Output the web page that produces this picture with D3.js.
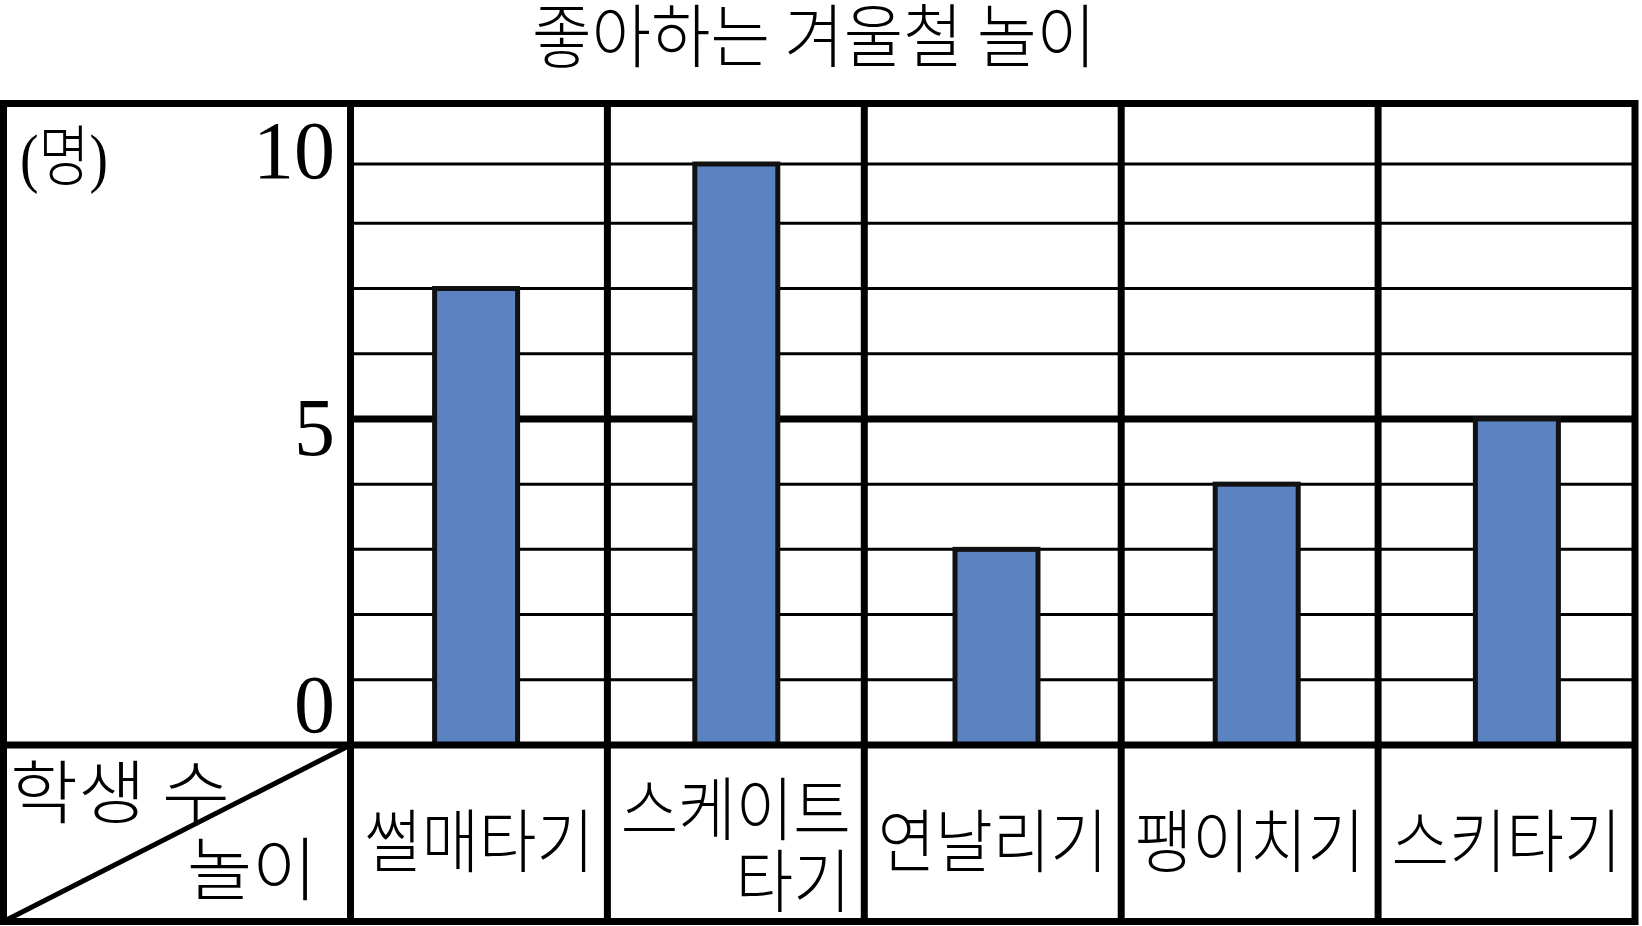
<!DOCTYPE html>
<html>
<head>
<meta charset="utf-8">
<script src="https://cdn.jsdelivr.net/npm/d3@7"></script>
<style>
  html, body { margin: 0; padding: 0; background: #fff; }
  svg { display: block; }
</style>
</head>
<body>
<svg id="chart" width="1642" height="926"></svg>
<script>
// ---- data ----
const title = "좋아하는 겨울철 놀이";
const unitLabel = "(명)";
const cornerTop = "학생 수";
const cornerBottom = "놀이";
const categories = ["썰매타기", "스케이트\n타기", "연날리기", "팽이치기", "스키타기"];
const values = [7, 10, 3, 4, 5];
const yTickLabels = [0, 5, 10];
const gridTicks = [1, 2, 3, 4, 5, 6, 7, 8, 10];
const majorTick = 5;

// ---- layout ----
const W = 1642, H = 926;
const frame = { left: 3.5, right: 1635, top: 103.5, bottom: 921.5 };
const axisColX = 350.5;
const baseY = 745;
const korFont = "'Noto Sans CJK KR', sans-serif";
const numFont = "'Liberation Serif', 'Noto Sans CJK KR', serif";
const korSize = 69;
const charW = 57.5;

const svg = d3.select("#chart");
svg.append("rect").attr("width", W).attr("height", H).attr("fill", "#fff");

// table columns
const x = d3.scaleBand().domain(categories).range([axisColX, frame.right]);
// bars sit on a slightly wider, evenly spaced pitch
const xBar = d3.scaleBand().domain(categories).range([346, 1647]);
// the printed grid is even from 0 to 8, with the 10 line placed just above
const y = d3.scaleLinear().domain([0, 8, 10]).range([baseY, 223.3, 164]);
const labelY = d3.scaleLinear().domain([0, 10]).range([732, 178]);

// grid lines
svg.append("g").selectAll("line").data(gridTicks).join("line")
  .attr("x1", axisColX).attr("x2", frame.right)
  .attr("y1", d => y(d)).attr("y2", d => y(d))
  .attr("stroke", "#000")
  .attr("stroke-width", d => d === majorTick ? 7 : 3);

// bars
const barW = 83;
svg.append("g").selectAll("rect").data(values).join("rect")
  .attr("x", (d, i) => xBar(categories[i]) + xBar.bandwidth() / 2 - barW / 2)
  .attr("width", barW)
  .attr("y", d => y(d))
  .attr("height", d => y(0) - y(d))
  .attr("fill", "#5b83c1")
  .attr("stroke", "#111")
  .attr("stroke-width", 5);

// baseline across full width
svg.append("line")
  .attr("x1", frame.left).attr("x2", frame.right)
  .attr("y1", y(0)).attr("y2", y(0))
  .attr("stroke", "#000").attr("stroke-width", 7);

// column separators
svg.append("g").selectAll("line").data(categories).join("line")
  .attr("x1", d => x(d)).attr("x2", d => x(d))
  .attr("y1", frame.top).attr("y2", frame.bottom)
  .attr("stroke", "#000").attr("stroke-width", 7);

// outer frame
svg.append("rect")
  .attr("x", frame.left).attr("y", frame.top)
  .attr("width", frame.right - frame.left).attr("height", frame.bottom - frame.top)
  .attr("fill", "none").attr("stroke", "#000").attr("stroke-width", 7);

// diagonal in corner cell
svg.append("line")
  .attr("x1", frame.left).attr("y1", frame.bottom)
  .attr("x2", axisColX).attr("y2", y(0))
  .attr("stroke", "#000").attr("stroke-width", 5);

// y tick labels
svg.append("g").selectAll("text").data(yTickLabels).join("text")
  .attr("x", 335).attr("y", d => labelY(d))
  .attr("text-anchor", "end")
  .attr("font-family", numFont).attr("font-size", 82)
  .attr("fill", "#000")
  .text(d => d);

// unit label
svg.append("text")
  .attr("x", 20).attr("y", 180)
  .attr("font-family", numFont).attr("font-size", 66).attr("font-weight", 300)
  .attr("textLength", 88).attr("lengthAdjust", "spacingAndGlyphs")
  .text(unitLabel);

// title
svg.append("text")
  .attr("x", 814).attr("y", 62)
  .attr("text-anchor", "middle")
  .attr("font-family", korFont).attr("font-size", korSize).attr("font-weight", 300)
  .attr("textLength", 564).attr("lengthAdjust", "spacingAndGlyphs")
  .text(title);

// corner labels
svg.append("text")
  .attr("x", 10).attr("y", 818)
  .attr("font-family", korFont).attr("font-size", korSize).attr("font-weight", 300)
  .attr("textLength", 220).attr("lengthAdjust", "spacingAndGlyphs")
  .text(cornerTop);
svg.append("text")
  .attr("x", 187).attr("y", 895)
  .attr("font-family", korFont).attr("font-size", korSize).attr("font-weight", 300)
  .attr("textLength", 130).attr("lengthAdjust", "spacingAndGlyphs")
  .text(cornerBottom);

// category labels
const catG = svg.append("g")
  .attr("font-family", korFont).attr("font-size", korSize).attr("font-weight", 300);
categories.forEach(c => {
  const lines = c.split("\n");
  const cx = x(c) + x.bandwidth() / 2;
  if (lines.length === 1) {
    catG.append("text")
      .attr("x", cx).attr("y", 867)
      .attr("text-anchor", "middle")
      .attr("textLength", charW * lines[0].length).attr("lengthAdjust", "spacingAndGlyphs")
      .text(lines[0]);
  } else {
    const w1 = charW * lines[0].length;
    catG.append("text")
      .attr("x", cx).attr("y", 835)
      .attr("text-anchor", "middle")
      .attr("textLength", w1).attr("lengthAdjust", "spacingAndGlyphs")
      .text(lines[0]);
    catG.append("text")
      .attr("x", cx + w1 / 2).attr("y", 907)
      .attr("text-anchor", "end")
      .attr("textLength", charW * lines[1].length).attr("lengthAdjust", "spacingAndGlyphs")
      .text(lines[1]);
  }
});
</script>
</body>
</html>
